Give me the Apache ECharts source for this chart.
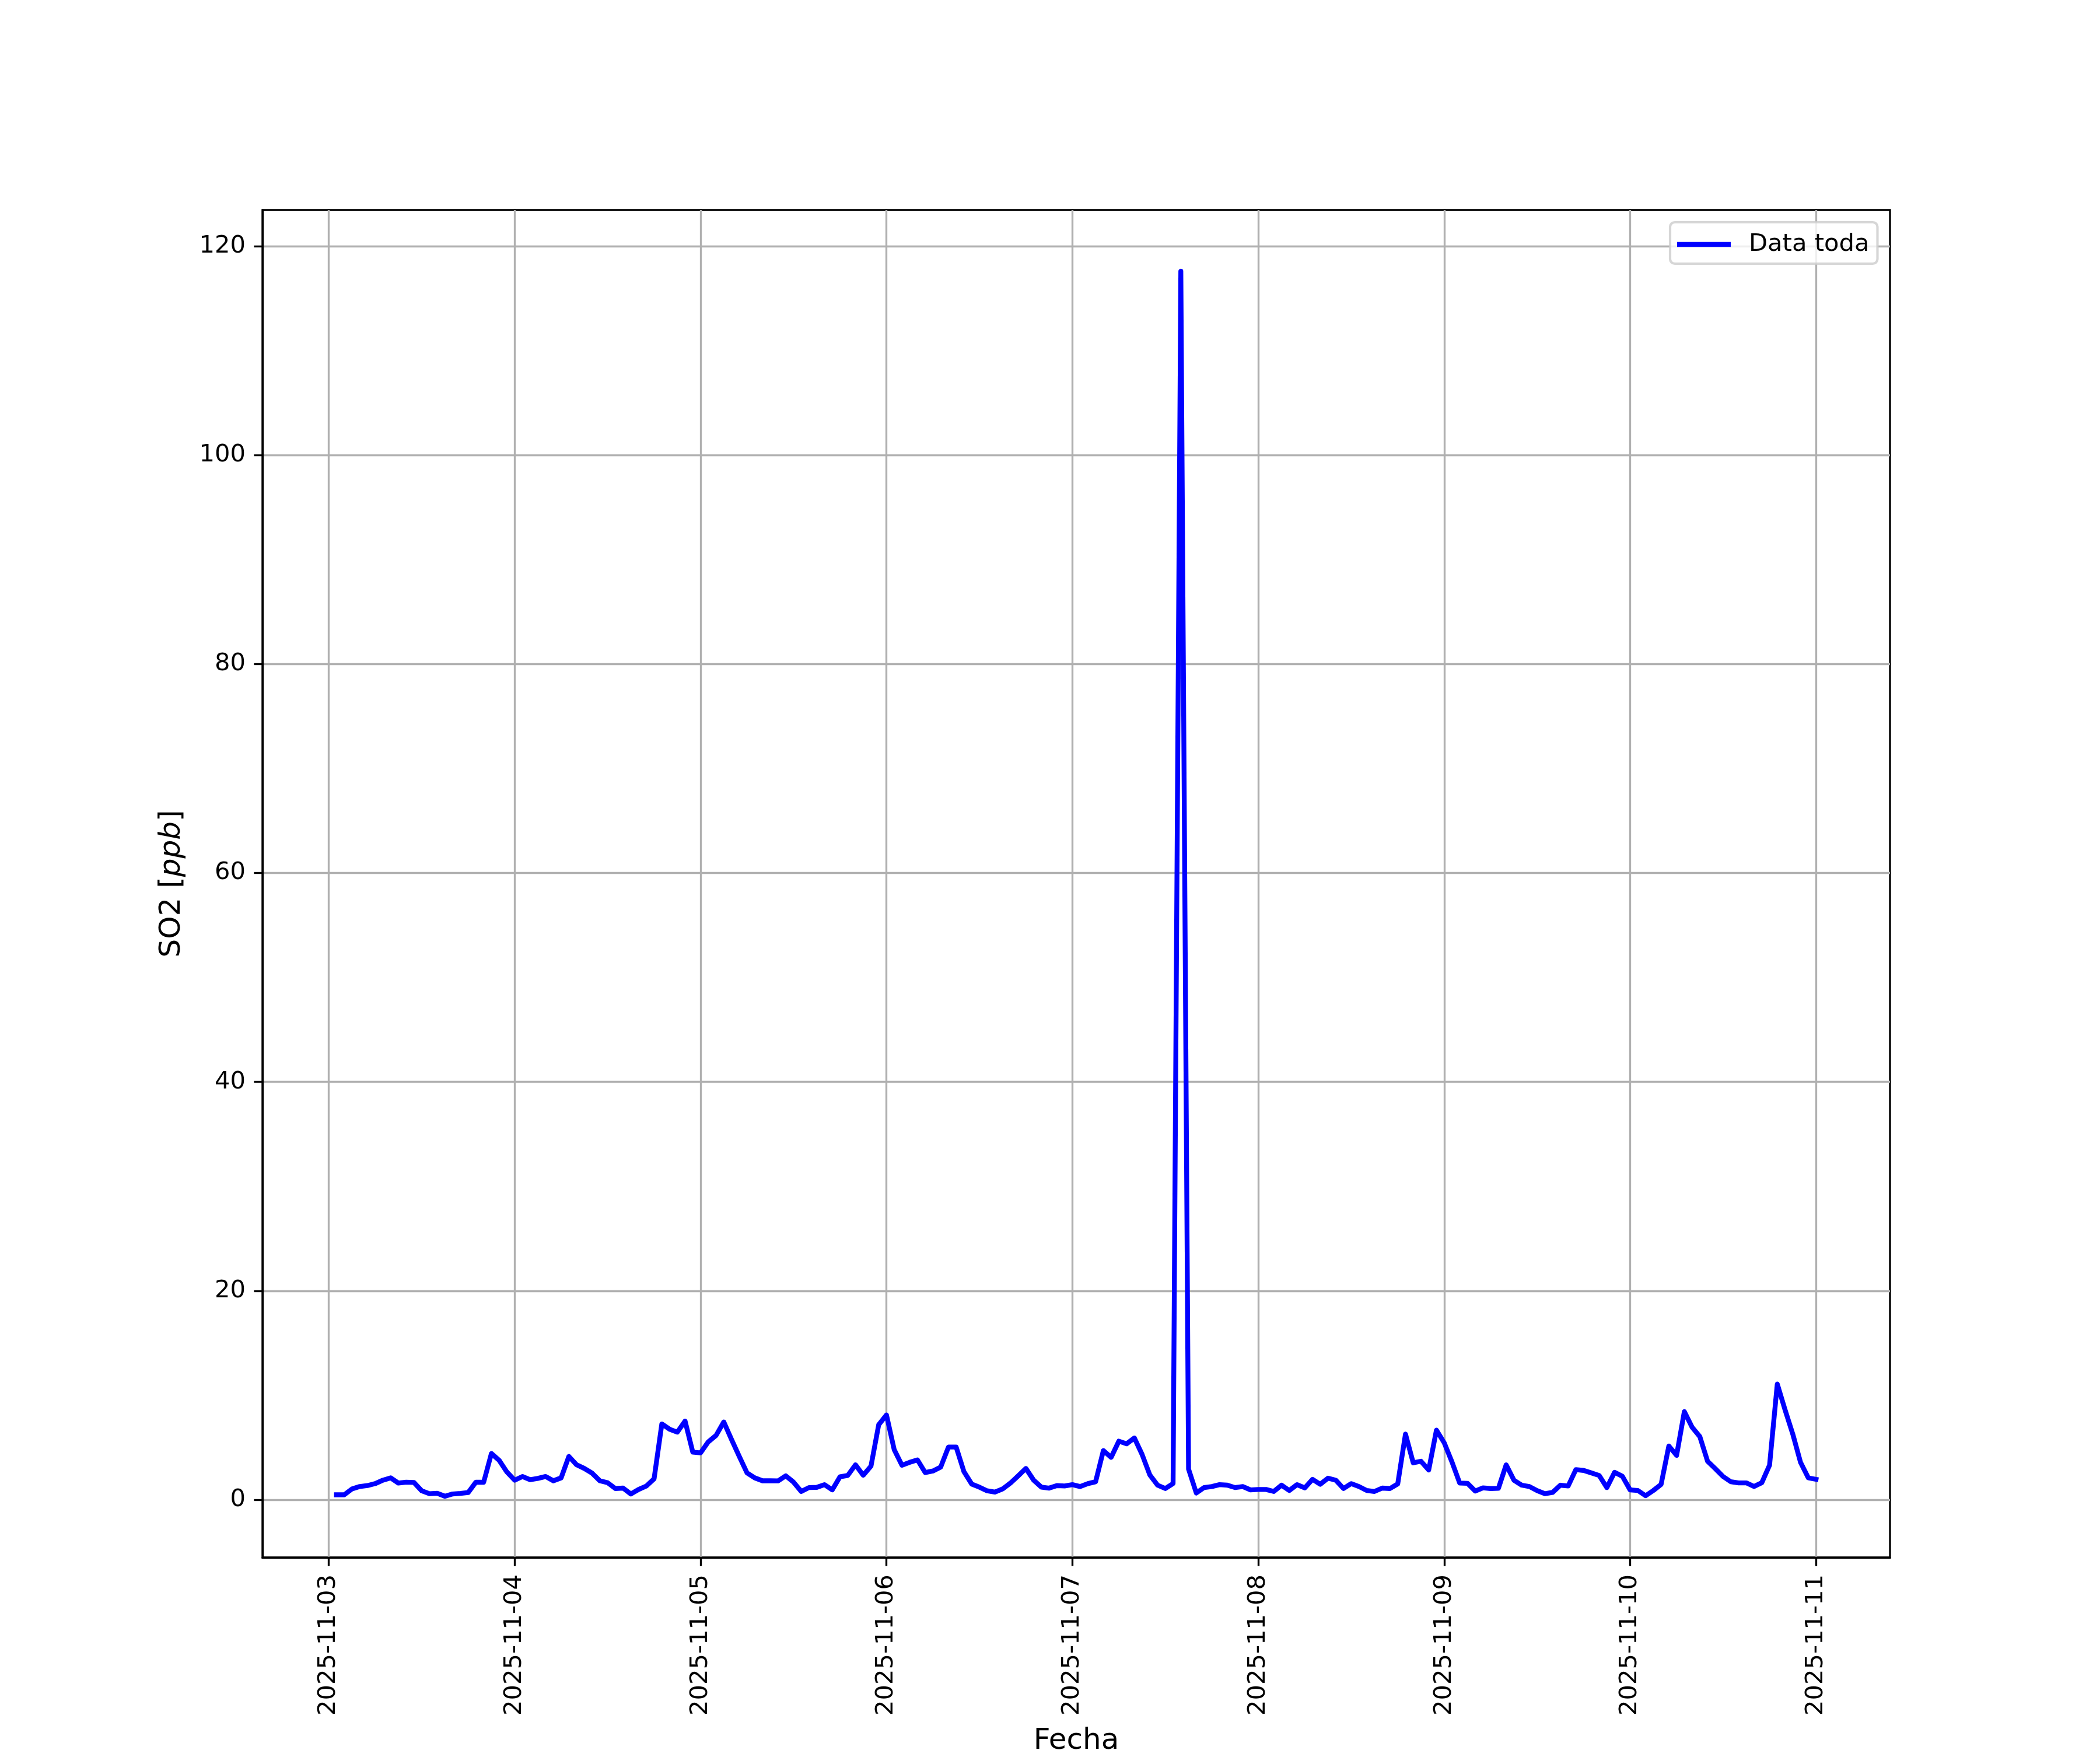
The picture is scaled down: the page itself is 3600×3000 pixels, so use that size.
<!DOCTYPE html>
<html>
<head>
<meta charset="utf-8">
<script src="https://cdn.jsdelivr.net/npm/echarts@6/dist/echarts.min.js"></script>
<style>
  html, body { margin: 0; padding: 0; background: #fff; }
  #chart { width: 3600px; height: 3000px; }
</style>
</head>
<body>
<div id="chart"></div>
<script>
// hourly SO2 readings, first one at 2025-11-03 01:00
const startTime = Date.UTC(2025, 10, 3, 1);
const HOUR = 3600 * 1000;

const so2 = [
  0.48, 0.48, 1.04, 1.27, 1.36, 1.55, 1.88, 2.10, 1.60, 1.69, 1.66, 0.86, 0.58, 0.63, 0.34, 0.56, 0.61, 0.69, 1.69, 1.68, 4.43, 3.78, 2.66, 1.88,
  2.23, 1.92, 2.05, 2.23, 1.82, 2.10, 4.15, 3.35, 3.00, 2.55, 1.82, 1.64, 1.08, 1.12, 0.56, 0.99, 1.32, 2.01, 7.26, 6.76, 6.48, 7.54, 4.56, 4.49,
  5.55, 6.16, 7.45, 5.77, 4.15, 2.57, 2.10, 1.82, 1.82, 1.81, 2.29, 1.69, 0.80, 1.17, 1.19, 1.45, 0.95, 2.20, 2.33, 3.35, 2.35, 3.22, 7.19, 8.12,
  4.80, 3.31, 3.59, 3.82, 2.61, 2.76, 3.13, 5.05, 5.05, 2.70, 1.51, 1.21, 0.86, 0.74, 1.04, 1.60, 2.29, 3.00, 1.88, 1.21, 1.12, 1.36, 1.32, 1.45,
  1.27, 1.55, 1.73, 4.71, 4.06, 5.61, 5.36, 5.92, 4.34, 2.38, 1.40, 1.08, 1.55, 117.6, 2.94, 0.65, 1.17, 1.27, 1.45, 1.40, 1.17, 1.27, 0.95, 0.99,
  0.99, 0.80, 1.40, 0.89, 1.45, 1.14, 1.96, 1.49, 2.07, 1.88, 1.08, 1.55, 1.27, 0.89, 0.80, 1.12, 1.08, 1.52, 6.29, 3.54, 3.69, 2.85, 6.67, 5.46,
  3.63, 1.60, 1.58, 0.84, 1.14, 1.08, 1.10, 3.35, 1.88, 1.40, 1.27, 0.88, 0.58, 0.71, 1.40, 1.32, 2.89, 2.81, 2.57, 2.33, 1.17, 2.63, 2.25, 0.95,
  0.89, 0.39, 0.89, 1.47, 5.15, 4.25, 8.44, 6.95, 6.05, 3.69, 2.98, 2.23, 1.73, 1.62, 1.62, 1.27, 1.64, 3.31, 11.08, 8.62, 6.29, 3.59, 2.10, 1.96
];

const xTickLabels = ['2025-11-03', '2025-11-04', '2025-11-05', '2025-11-06', '2025-11-07',
                     '2025-11-08', '2025-11-09', '2025-11-10', '2025-11-11'];
const yTicks = [0, 20, 40, 60, 80, 100, 120];

const seriesName = 'Data toda';
const xName = 'Fecha';

const data = so2.map((v, i) => [startTime + i * HOUR, v]);
const xTicks = xTickLabels.map(s => Date.parse(s + 'T00:00:00Z'));

// matplotlib style 5% margins around the data
const tFirst = data[0][0], tLast = data[data.length - 1][0];
const xPad = (tLast - tFirst) * 0.05;
const vMin = Math.min(...so2), vMax = Math.max(...so2);
const yPad = (vMax - vMin) * 0.05;

const FONT = 'DejaVu Sans';
const LW = 3.33; // 0.8pt at 300 dpi

const chart = echarts.init(document.getElementById('chart'));
chart.setOption({
  animation: false,
  backgroundColor: '#fff',
  textStyle: { fontFamily: FONT },
  grid: {
    left: 450, right: 360, top: 360, bottom: 330,
    containLabel: false,
    outerBoundsMode: 'none',
    show: true, borderColor: '#000', borderWidth: LW, backgroundColor: 'transparent'
  },
  legend: {
    data: [seriesName],
    left: 2863, top: 381,
    padding: [17, 14, 12, 12],
    icon: 'rect',
    itemWidth: 92, itemHeight: 8.33,
    itemStyle: { color: '#0000ff' },
    backgroundColor: 'rgba(255,255,255,0.8)',
    borderColor: 'rgba(204,204,204,0.8)',
    borderWidth: 4.17,
    borderRadius: 8,
    textStyle: { fontFamily: FONT, fontSize: 41.67, color: '#000', padding: [0, 0, 0, 26] }
  },
  xAxis: {
    type: 'value',
    min: tFirst - xPad,
    max: tLast + xPad,
    name: xName,
    nameLocation: 'middle',
    nameGap: 290,
    nameTextStyle: { fontFamily: FONT, fontSize: 50, color: '#000' },
    axisLine: { show: true, onZero: false, lineStyle: { color: '#000', width: LW } },
    axisTick: { show: true, length: 14.6, customValues: xTicks, lineStyle: { color: '#000', width: LW } },
    axisLabel: {
      customValues: xTicks,
      rotate: 90,
      margin: 29,
      fontFamily: FONT, fontSize: 41.67, color: '#000',
      formatter: v => xTickLabels[xTicks.indexOf(v)] || ''
    },
    splitLine: { show: true, lineStyle: { color: '#b0b0b0', width: LW } }
  },
  yAxis: {
    type: 'value',
    min: vMin - yPad,
    max: vMax + yPad,
    name: 'SO2 [{i|ppb}]',
    nameLocation: 'middle',
    nameGap: 130,
    nameTextStyle: {
      fontFamily: FONT, fontSize: 50, color: '#000',
      rich: { i: { fontFamily: FONT, fontSize: 50, fontStyle: 'italic', color: '#000' } }
    },
    axisLine: { show: true, onZero: false, lineStyle: { color: '#000', width: LW } },
    axisTick: { show: true, length: 14.6, customValues: yTicks, lineStyle: { color: '#000', width: LW } },
    axisLabel: {
      customValues: yTicks,
      margin: 29,
      fontFamily: FONT, fontSize: 41.67, color: '#000'
    },
    splitLine: { show: true, lineStyle: { color: '#b0b0b0', width: LW } }
  },
  series: [{
    name: seriesName,
    type: 'line',
    data: data,
    symbol: 'none',
    color: '#0000ff',
    lineStyle: { color: '#0000ff', width: 8.33, cap: 'square', join: 'round' }
  }]
});
</script>
</body>
</html>
